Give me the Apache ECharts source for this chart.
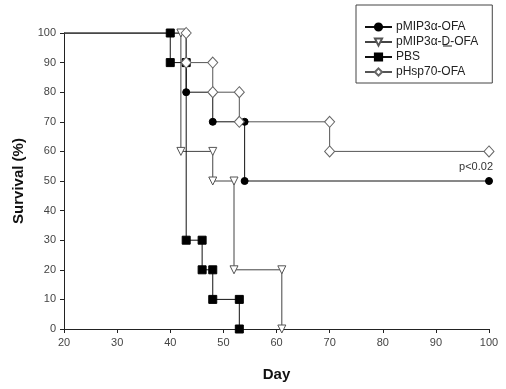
<!DOCTYPE html>
<html>
<head>
<meta charset="utf-8">
<script src="https://cdn.jsdelivr.net/npm/echarts@6/dist/echarts.min.js"></script>
<style>
html, body { margin: 0; padding: 0; background: #fff; }
#main { width: 506px; height: 389px; }
</style>
</head>
<body>
<div id="main"></div>
<script>
// survival curves, step corners as plotted (day, % survival)
var seriesNames = ['pMIP3\u03b1-OFA', 'pMIP3\u03b1-D-OFA', 'PBS', 'pHsp70-OFA'];

var ofaDays = [20, 43, 43, 48, 48, 54, 54, 100];
var ofaSurv = [100, 100, 80, 80, 70, 70, 50, 50];

var dOfaDays = [20, 42, 42, 48, 48, 52, 52, 61, 61];
var dOfaSurv = [100, 100, 60, 60, 50, 50, 20, 20, 0];

var pbsDays = [20, 40, 40, 43, 43, 46, 46, 48, 48, 53, 53];
var pbsSurv = [100, 100, 90, 90, 30, 30, 20, 20, 10, 10, 0];

var hspDays = [20, 43, 43, 48, 48, 53, 53, 70, 70, 100];
var hspSurv = [100, 100, 90, 90, 80, 80, 70, 70, 60, 60];

var xTicks = { min: 20, max: 100, step: 10 };
var yTicks = { min: 0, max: 100, step: 10 };

function toPoints(days, surv) {
    var pts = [];
    for (var i = 0; i < days.length; i++) {
        if (i === 0) {
            pts.push({ value: [days[i], surv[i]], symbol: 'none' });   // no marker at start
        } else {
            pts.push([days[i], surv[i]]);
        }
    }
    return pts;
}

var chart = echarts.init(document.getElementById('main'));
var font = 'Liberation Sans, Arial, sans-serif';

var option = {
    animation: false,
    backgroundColor: '#fff',
    grid: { left: 64, right: 17, top: 33, bottom: 60 },
    legend: {
        orient: 'vertical',
        left: 356,
        top: 5,
        width: 136,
        padding: [16, 14, 5, 8],
        itemWidth: 27,
        itemHeight: 9,
        itemGap: 3,
        borderColor: '#444',
        borderWidth: 1,
        textStyle: { fontFamily: font, fontSize: 12, color: '#222', padding: [0, 0, 0, -1] },
        data: seriesNames
    },
    xAxis: {
        type: 'value',
        min: xTicks.min,
        max: xTicks.max,
        interval: xTicks.step,
        name: 'Day',
        nameLocation: 'middle',
        nameGap: 38,
        nameTextStyle: { fontFamily: font, fontSize: 15, fontWeight: 'bold', color: '#111' },
        axisLine: { lineStyle: { color: '#222', width: 1 } },
        axisTick: { length: 4, lineStyle: { color: '#222' } },
        axisLabel: { fontFamily: font, fontSize: 11, color: '#444', margin: 8 },
        splitLine: { show: false }
    },
    yAxis: {
        type: 'value',
        min: yTicks.min,
        max: yTicks.max,
        interval: yTicks.step,
        name: 'Survival (%)',
        nameLocation: 'middle',
        nameRotate: 90,
        nameGap: 38,
        nameTextStyle: { fontFamily: font, fontSize: 15, fontWeight: 'bold', color: '#111' },
        axisLine: { show: true, lineStyle: { color: '#222', width: 1 } },
        axisTick: { show: true, length: 4, lineStyle: { color: '#222' } },
        axisLabel: { fontFamily: font, fontSize: 11, color: '#444', margin: 8 },
        splitLine: { show: false }
    },
    series: [
        {
            name: seriesNames[0],
            type: 'line',
            data: toPoints(ofaDays, ofaSurv),
            symbol: 'circle',
            symbolSize: 7,
            lineStyle: { color: '#111', width: 1 },
            itemStyle: { color: '#000', borderColor: '#000', borderWidth: 1 }
        },
        {
            name: seriesNames[1],
            type: 'line',
            data: toPoints(dOfaDays, dOfaSurv),
            symbol: 'triangle',
            symbolRotate: 180,
            symbolSize: 8,
            lineStyle: { color: '#444', width: 1 },
            itemStyle: { color: '#fff', borderColor: '#555', borderWidth: 1 }
        },
        {
            name: seriesNames[2],
            type: 'line',
            data: toPoints(pbsDays, pbsSurv),
            symbol: 'rect',
            symbolSize: 8,
            lineStyle: { color: '#111', width: 1 },
            itemStyle: { color: '#000', borderColor: '#000', borderWidth: 1 }
        },
        {
            name: seriesNames[3],
            type: 'line',
            data: toPoints(hspDays, hspSurv),
            symbol: 'diamond',
            symbolSize: [10, 11],
            lineStyle: { color: '#555', width: 1 },
            itemStyle: { color: '#fff', borderColor: '#666', borderWidth: 1 }
        }
    ],
    graphic: [
        {
            type: 'text',
            right: 13,
            top: 161,
            style: { text: 'p<0.02', fontFamily: font, fontSize: 11, fill: '#333' }
        },
        {
            // underline the "D" in the second legend entry
            type: 'line',
            shape: { x1: 443, y1: 46, x2: 452, y2: 46 },
            style: { stroke: '#222', lineWidth: 1 }
        }
    ]
};

chart.setOption(option);
</script>
</body>
</html>
